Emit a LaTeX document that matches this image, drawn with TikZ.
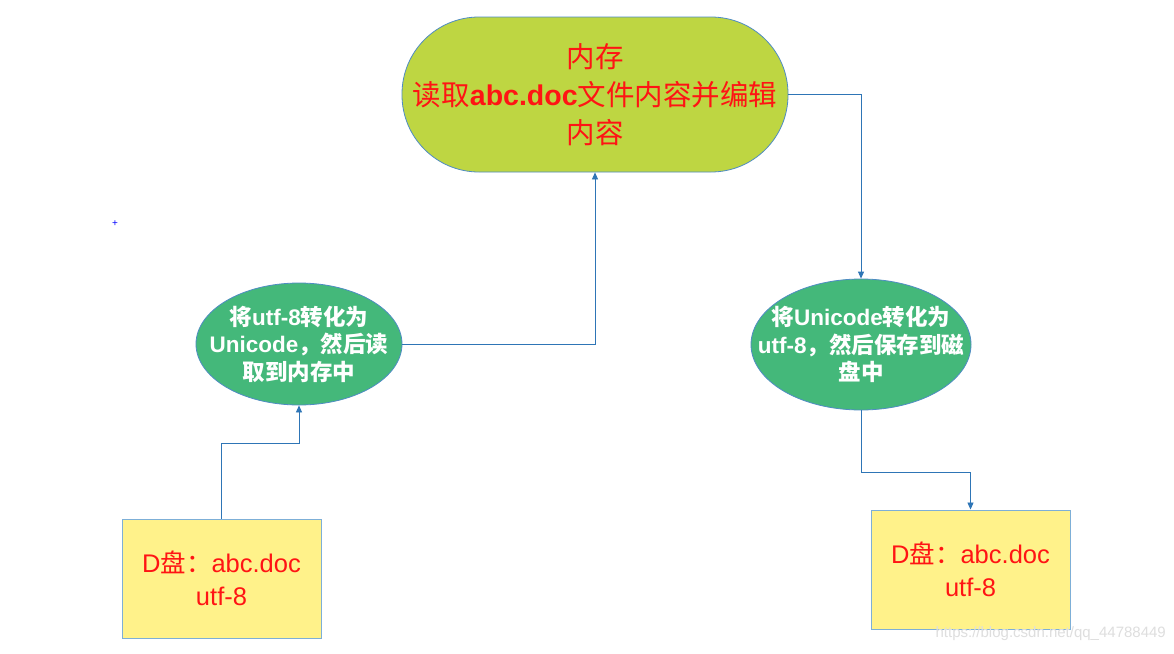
\documentclass[tikz,border=0pt]{standalone}
\usepackage{fontspec}
\setmainfont{Liberation Sans}
\newfontfamily\cjk{Noto Sans CJK SC}
\usetikzlibrary{shapes.geometric,arrows.meta}
\definecolor{stadfill}{RGB}{190,214,66}
\definecolor{edgeblue}{RGB}{79,140,195}
\definecolor{ellfill}{RGB}{68,184,122}
\definecolor{rectfill}{RGB}{255,242,138}
\definecolor{rectedge}{RGB}{125,175,215}
\definecolor{linkblue}{RGB}{46,117,182}
\definecolor{txtred}{RGB}{255,20,20}
\begin{document}
\begin{tikzpicture}[x=1pt,y=-1pt,
  stadium/.style={draw=edgeblue,line width=0.8pt,fill=stadfill,rounded corners=77pt,
    minimum width=386pt,minimum height=155pt,inner sep=0pt,align=center,text=txtred,
    font=\fontsize{28.5}{38}\selectfont},
  oval/.style={draw=edgeblue,line width=0.8pt,fill=ellfill,ellipse,inner sep=0pt},
  ovaltext/.style={align=center,text=white,inner sep=0pt,
    font=\bfseries\fontsize{22.5}{27.5}\selectfont},
  filebox/.style={draw=rectedge,line width=0.9pt,fill=rectfill,minimum width=199pt,
    minimum height=119pt,inner sep=0pt,align=center,text=txtred,
    font=\fontsize{25.5}{33}\selectfont},
  link/.style={draw=linkblue,line width=0.8pt,-{Triangle[length=7pt,width=6pt]}}]
\useasboundingbox (0,0) rectangle (1174,653);
\fill[white] (0,0) rectangle (1174,653);

\node[stadium] (mem) at (595,94.5)
  {{\cjk 内存}\\{\cjk 读取}\textbf{abc.doc}{\cjk 文件内容并编辑}\\{\cjk 内容}};

\node[oval,minimum width=206pt,minimum height=122pt] (dec) at (299,344) {};
\node[ovaltext] (dect) at (dec.center)
  {{\cjk\bfseries 将}utf-8{\cjk\bfseries 转化为}\\Unicode{\cjk\bfseries ，然后读}\\{\cjk\bfseries 取到内存中}};

\node[oval,minimum width=220pt,minimum height=131pt] (enc) at (861,344.5) {};
\node[ovaltext] (enct) at (enc.center)
  {{\cjk\bfseries 将}Unicode{\cjk\bfseries 转化为}\\utf-8{\cjk\bfseries ，然后保存到磁}\\{\cjk\bfseries 盘中}};

\node[filebox] (src) at (221.5,578.5)
  {D{\cjk 盘：}abc.doc\\utf-8};
\node[filebox] (dst) at (970.5,569.5)
  {D{\cjk 盘：}abc.doc\\utf-8};

\draw[link] (src.north) |- (299,443) -- (dec.south);
\draw[link] (dec.east) -| (mem.south);
\draw[link] (mem.east) -| (enc.north);
\draw[link] (enc.south) |- (970.5,472) -- (dst.north);

\node[blue,font=\fontsize{10}{10}\selectfont,inner sep=0pt] (plus) at (115,224) {+};

\node[text=black!13,font=\fontsize{15}{15}\selectfont,anchor=east,inner sep=0pt] (wm) at (1166,634)
  {https://blog.csdn.net/qq\_44788449};
\end{tikzpicture}
\end{document}
